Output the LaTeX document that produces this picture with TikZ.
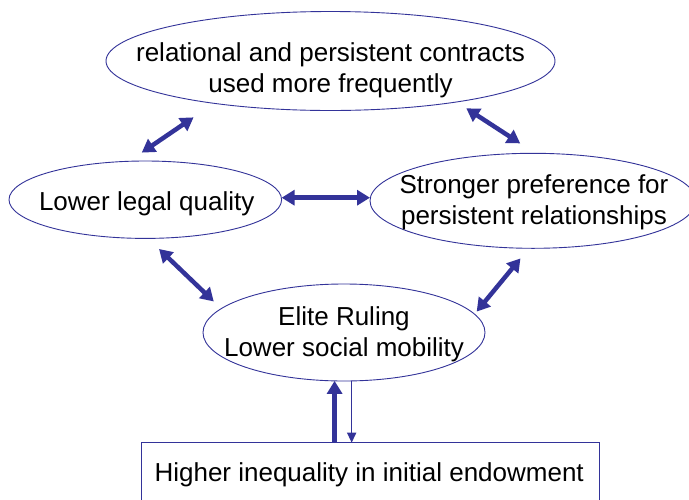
\documentclass[tikz,border=0pt]{standalone}
\usepackage{fontspec}
\setmainfont{Liberation Sans}
\usetikzlibrary{shapes.geometric,arrows.meta}
\definecolor{ablue}{HTML}{333399}
\begin{document}
\begin{tikzpicture}[x=1pt,y=-1pt,
  el/.style={ellipse,draw=ablue,line width=0.9pt,inner sep=0pt,outer sep=0pt},
  boxst/.style={rectangle,draw=ablue,line width=0.9pt,inner sep=0pt,outer sep=0pt},
  txt/.style={align=center,font=\fontsize{26}{31}\selectfont,inner sep=0pt,text=black},
  dbl/.style={draw=ablue,line width=4.5pt,{Triangle[length=13pt,width=15pt]}-{Triangle[length=13pt,width=15pt]}},
  thickup/.style={draw=ablue,line width=4.5pt,-{Triangle[length=13pt,width=15pt]}},
  thindown/.style={draw=ablue,line width=1.5pt,-{Triangle[length=10pt,width=9pt]}}]
\useasboundingbox (0,0) rectangle (689,499);
\clip (0,0) rectangle (689,499);
\fill[white] (0,0) rectangle (689,499);
% shapes
\node[el, minimum width=449pt, minimum height=99pt] (T) at (330.5,61) {};
\node[el, minimum width=272.6pt, minimum height=77.4pt] (L) at (145.3,199.7) {};
\node[el, minimum width=326pt, minimum height=95pt] (R) at (533,200.8) {};
\node[el, minimum width=282pt, minimum height=97pt] (B) at (344,332.5) {};
\node[boxst, minimum width=457.6pt, minimum height=80pt] (box) at (370.5,482.7) {};
% texts
\node[txt] (Tt) at (330.5,69.9) {relational and persistent contracts\\used more frequently};
\node[txt] (Lt) at (146.7,203.7) {Lower legal quality};
\node[txt] (Rt) at (534,201.9) {Stronger preference for\\persistent relationships};
\node[txt] (Bt) at (344,334.2) {Elite Ruling\\Lower social mobility};
\node[txt] (boxt) at (369.2,475.1) {Higher inequality in initial endowment};
% connectors
\draw[dbl, shorten <=15.4pt, shorten >=24.9pt] (L.113.05) -- (T.200.15);
\draw[dbl, shorten <=11.65pt, shorten >=18.2pt] (T.342.07) -- (R.87.34);
\draw[dbl] ([yshift=2pt]L.east) -- ([yshift=2pt]L.east -| R.west);
\draw[dbl, shorten <=15.3pt, shorten >=10.35pt] (L.274.36) -- (B.169.83);
\draw[dbl, shorten <=13.15pt, shorten >=3.37pt] (R.265.44) -- (B.8.30);
\draw[thickup] (B.259.47 |- box.north) -- (B.259.47);
\draw[thindown] (B.279.73) -- (B.279.73 |- box.north);
\end{tikzpicture}
\end{document}
